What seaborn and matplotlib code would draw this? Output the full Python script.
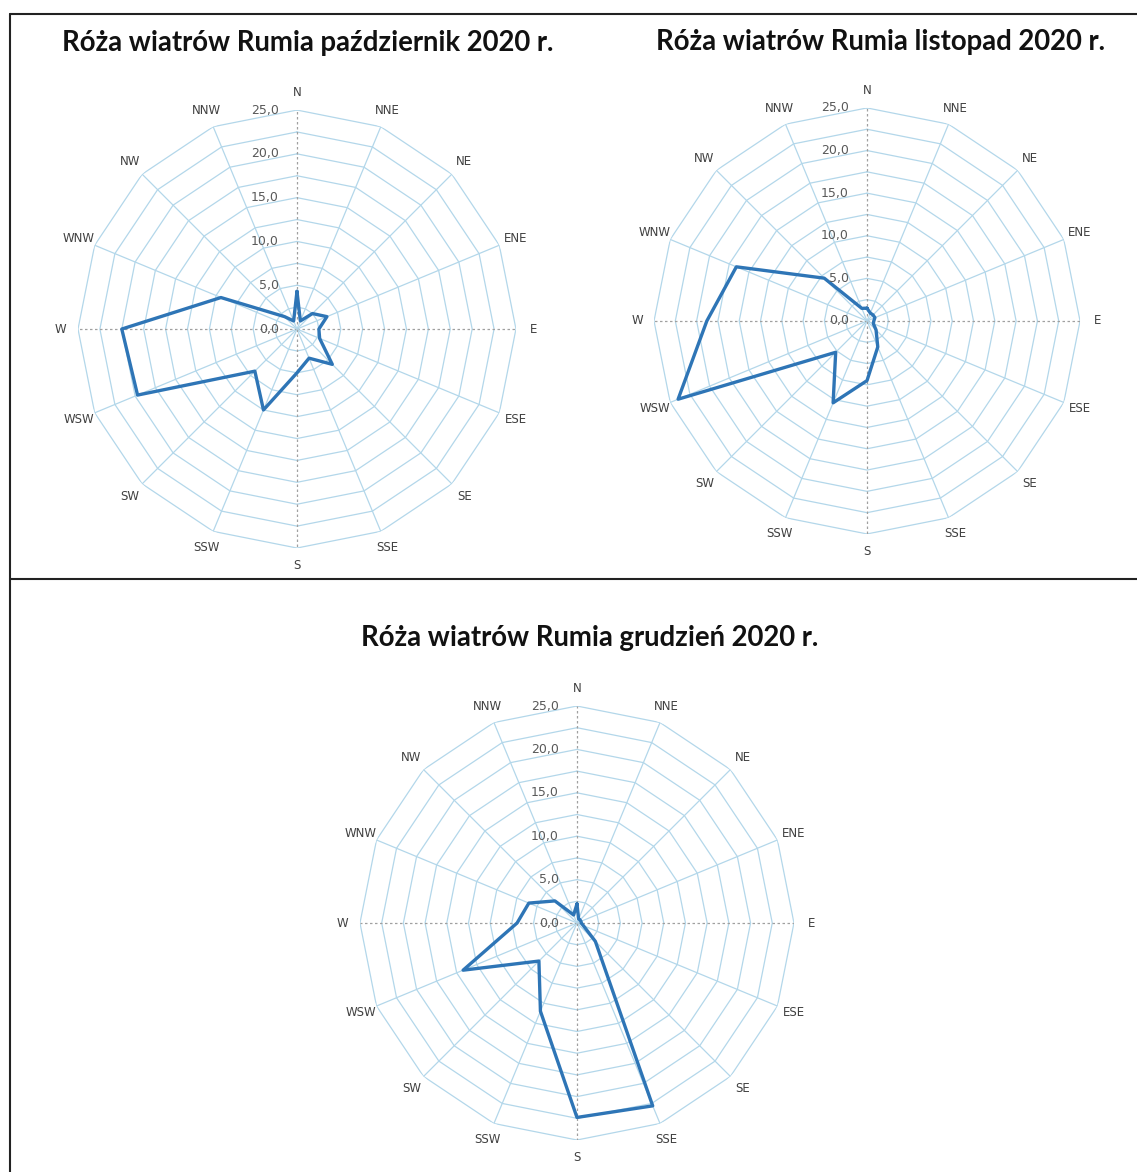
import numpy as np
import pandas as pd
import matplotlib
matplotlib.use('Agg')
import matplotlib.pyplot as plt
import seaborn as sns
from matplotlib.lines import Line2D
from matplotlib.transforms import ScaledTranslation

# wind directions clockwise from north
directions = ['N', 'NNE', 'NE', 'ENE', 'E', 'ESE', 'SE', 'SSE',
              'S', 'SSW', 'SW', 'WSW', 'W', 'WNW', 'NW', 'NNW']

# frequency [%]
pazdziernik = [4.3, 1.0, 2.5, 3.7, 2.5, 2.8, 5.7, 3.6,
               5.0, 10.0, 6.8, 19.7, 20.0, 9.4, 2.0, 1.0]
listopad = [1.5, 1.0, 1.0, 1.0, 0.8, 0.8, 1.5, 3.3,
            7.0, 10.4, 5.2, 24.0, 18.8, 16.6, 7.1, 1.6]
grudzien = [2.2, 0.5, 0.5, 0.5, 0.5, 0.8, 3.0, 22.8,
            22.4, 11.0, 6.2, 14.2, 6.9, 6.0, 3.6, 1.0]

titles = ['Róża wiatrów Rumia październik 2020 r.',
          'Róża wiatrów Rumia listopad 2020 r.',
          'Róża wiatrów Rumia grudzień 2020 r.']
rings = np.arange(2.5, 25.01, 2.5)
rlabels = [0, 5, 10, 15, 20, 25]

sns.set_style('white')
plt.rcParams['font.family'] = ['DejaVu Sans']

fig = plt.figure(figsize=(11.37, 11.72), dpi=100)

angles = np.deg2rad(np.arange(16) * 22.5)
closed = np.append(angles, 2 * np.pi)


def rose(rect, values, title, title_xy):
    ax = fig.add_axes(rect, projection='polar')
    ax.set_theta_zero_location('N')
    ax.set_theta_direction(-1)
    ax.grid(False)
    ax.spines['polar'].set_visible(False)
    ax.set_xticks([])
    ax.set_yticks([])

    # polygon grid
    for r in rings:
        ax.plot(closed, [r] * 17, color='#b3d7ea', lw=0.9, zorder=1)
    for i, a in enumerate(angles):
        if i % 4 == 0:
            ax.plot([a, a], [0, 25], color='#a0a0a0', lw=0.9, ls=(0, (2, 2)), zorder=1)
        else:
            ax.plot([a, a], [0, 25], color='#b3d7ea', lw=0.9, zorder=1)

    df = pd.DataFrame({'kat': closed, 'wartosc': list(values) + [values[0]]})
    sns.lineplot(data=df, x='kat', y='wartosc', sort=False, estimator=None,
                 color='#2e75b6', lw=2.4, ax=ax, zorder=3)
    ax.set_xlabel('')
    ax.set_ylabel('')
    ax.set_ylim(0, 25)

    for a, d in zip(angles, directions):
        ax.text(a, 27.0, d, ha='center', va='center', fontsize=8.5,
                color='#404040', clip_on=False)
    off = ax.transData + ScaledTranslation(-0.18, 0, fig.dpi_scale_trans)
    for v in rlabels:
        ax.text(0, v, f'{v:.1f}'.replace('.', ','), transform=off,
                ha='right', va='center', fontsize=9, color='#595959')

    fig.text(title_xy[0], title_xy[1], title, ha='center', va='center',
             fontsize=19.8, fontweight='bold', family='Lato', color='#111111')


rose([0.0686, 0.5324, 0.3852, 0.3737], pazdziernik, titles[0], (0.271, 0.963))
rose([0.5752, 0.5444, 0.3747, 0.3635], listopad, titles[1], (0.774, 0.964))
rose([0.3166, 0.0273, 0.3817, 0.3703], grudzien, titles[2], (0.519, 0.456))

# frame lines
fig.add_artist(Line2D([10 / 1137, 1], [1 - 14 / 1172] * 2, color='#222222', lw=1.5))
fig.add_artist(Line2D([10 / 1137] * 2, [0, 1 - 14 / 1172], color='#222222', lw=1.5))
fig.add_artist(Line2D([10 / 1137, 1], [1 - 579 / 1172] * 2, color='#222222', lw=1.5))

fig.savefig('out.png', dpi=100)
